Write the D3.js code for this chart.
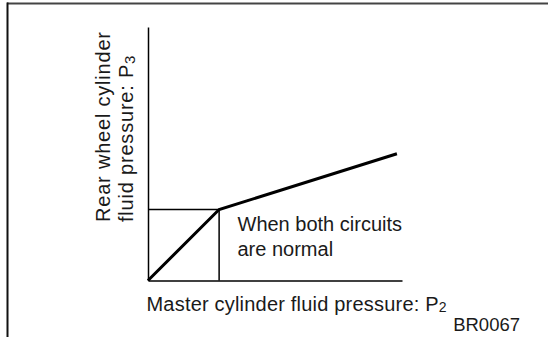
<!DOCTYPE html>
<html>
<head>
<meta charset="utf-8">
<script src="https://cdn.jsdelivr.net/npm/d3@7"></script>
<style>
  html, body { margin: 0; padding: 0; background: #fff; }
  svg { display: block; font-family: "Liberation Sans", Arial, Helvetica, sans-serif; }
</style>
</head>
<body>
<svg id="chart" width="548" height="337"></svg>
<script>
// Master cylinder pressure P2 (x) vs rear wheel cylinder pressure P3 (y), relative units
const pressureIn  = [0, 28, 98];
const pressureOut = [0, 28, 50];
// break point of the proportioning valve (split point of the curve)
const splitIndex = 1;
const xDomain = [0, 100];
const yDomain = [0, 100];

const xTitle = "Master cylinder fluid pressure: P";
const xTitleSub = "2";
const yTitleLines = ["Rear wheel cylinder", "fluid pressure: P"];
const yTitleSub = "3";
const noteLines = ["When both circuits", "are normal"];
const figureCode = "BR0067";

const svg = d3.select("#chart");
const W = 548, H = 337;
const margin = { left: 148, right: 146, top: 27, bottom: 56.5 };

const x = d3.scaleLinear().domain(xDomain).range([margin.left, W - margin.right]);
const y = d3.scaleLinear().domain(yDomain).range([H - margin.bottom, margin.top]);

// frame: top rule and left rule
svg.append("line").attr("x1", 7).attr("x2", W).attr("y1", 3.5).attr("y2", 3.5)
  .attr("stroke", "#444").attr("stroke-width", 2);
svg.append("line").attr("x1", 7.5).attr("x2", 7.5).attr("y1", 2.5).attr("y2", H)
  .attr("stroke", "#111").attr("stroke-width", 2);

// axes without ticks
const xAxis = d3.axisBottom(x).tickValues([]).tickSizeOuter(0);
const yAxis = d3.axisLeft(y).tickValues([]).tickSizeOuter(0);
svg.append("g").attr("transform", `translate(0,${y(0)})`).call(xAxis)
  .select(".domain").attr("stroke", "#000").attr("stroke-width", 1.5);
svg.append("g").attr("transform", `translate(${x(0)},0)`).call(yAxis)
  .select(".domain").attr("stroke", "#000").attr("stroke-width", 1.5);

// guide lines from the split point to both axes
const sx = pressureIn[splitIndex], sy = pressureOut[splitIndex];
svg.append("line").attr("x1", x(0)).attr("x2", x(sx)).attr("y1", y(sy)).attr("y2", y(sy))
  .attr("stroke", "#000").attr("stroke-width", 1.5);
svg.append("line").attr("x1", x(sx)).attr("x2", x(sx)).attr("y1", y(sy)).attr("y2", y(0))
  .attr("stroke", "#000").attr("stroke-width", 1.5);

// characteristic curve
const pts = pressureIn.map((v, i) => [v, pressureOut[i]]);
svg.append("path")
  .datum(pts)
  .attr("d", d3.line().x(d => x(d[0])).y(d => y(d[1])))
  .attr("fill", "none").attr("stroke", "#000").attr("stroke-width", 3)
  .attr("stroke-linejoin", "miter");

// note text
const note = svg.append("text").attr("x", 237.5).attr("y", 231)
  .attr("font-size", 20).attr("fill", "#1a1a1a");
noteLines.forEach((t, i) => {
  note.append("tspan").attr("x", 237.5).attr("dy", i === 0 ? 0 : 25).text(t);
});

// x axis title
const xt = svg.append("text").attr("x", 146.5).attr("y", 310.5)
  .attr("font-size", 20).attr("letter-spacing", 0.2).attr("fill", "#1a1a1a");
xt.append("tspan").text(xTitle);
xt.append("tspan").attr("font-size", 14).attr("dy", 1).text(xTitleSub);

// y axis title (rotated, two lines)
const yt = svg.append("text")
  .attr("transform", `translate(110,222) rotate(-90)`)
  .attr("font-size", 20).attr("letter-spacing", 0.8).attr("fill", "#1a1a1a");
yt.append("tspan").attr("x", 0).attr("y", 0).text(yTitleLines[0]);
yt.append("tspan").attr("x", 0).attr("y", 23).text(yTitleLines[1]);
yt.append("tspan").attr("font-size", 15).attr("dy", 2).text(yTitleSub);

// figure code
svg.append("text").attr("x", 520).attr("y", 331).attr("text-anchor", "end")
  .attr("font-size", 18.5).attr("fill", "#1a1a1a").text(figureCode);
</script>
</body>
</html>
